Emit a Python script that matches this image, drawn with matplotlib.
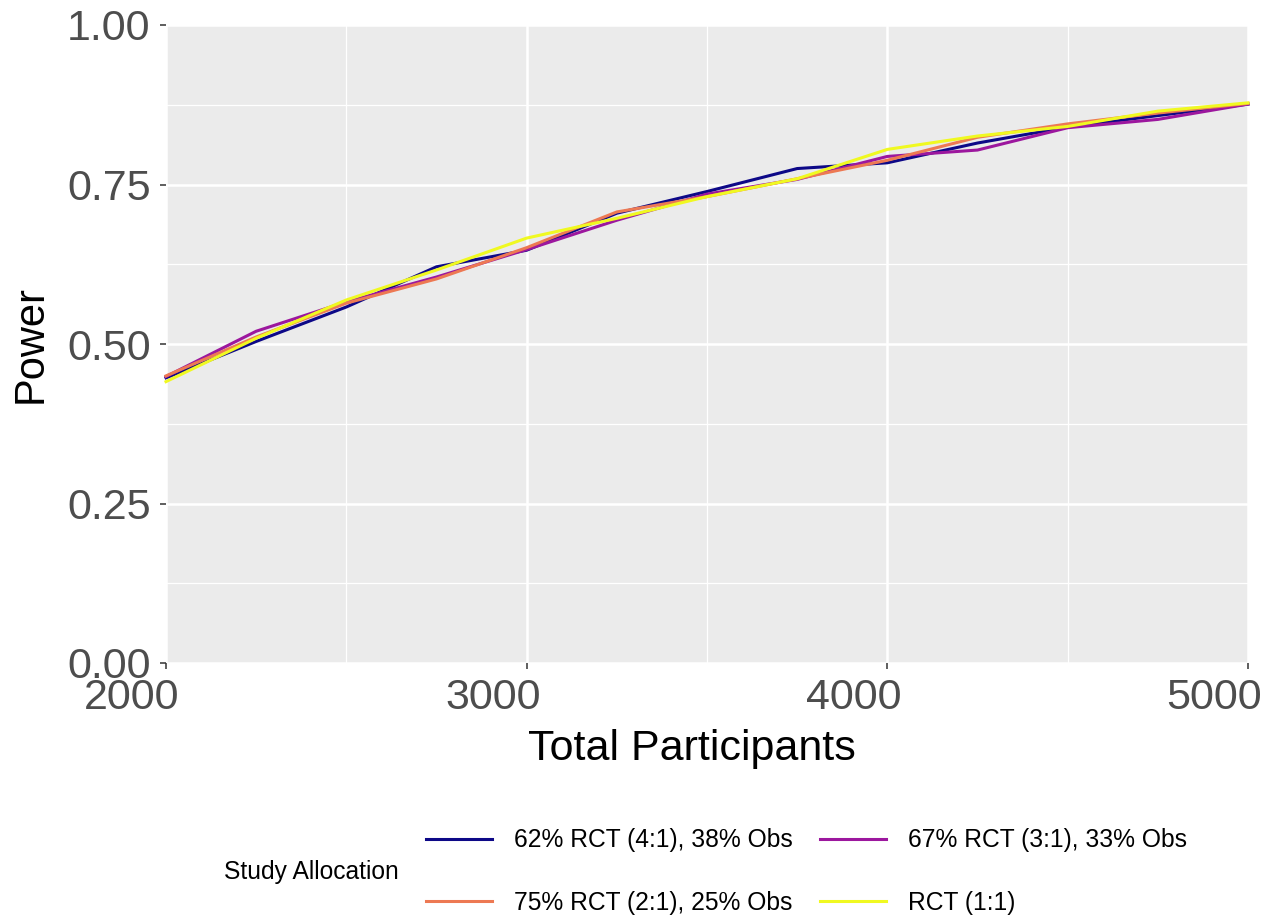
import matplotlib
matplotlib.use("Agg")
import matplotlib.pyplot as plt
from matplotlib.lines import Line2D
from matplotlib.transforms import ScaledTranslation
import numpy as np

plt.rcParams['font.family'] = ['Liberation Sans', 'DejaVu Sans']

# Total participants simulated
participants = [2000, 2250, 2500, 2750, 3000, 3250, 3500, 3750, 4000, 4250, 4500, 4750, 5000]

# Estimated power for each allocation scheme
power_62_rct = [0.447, 0.504, 0.558, 0.621, 0.647, 0.705, 0.739, 0.775, 0.784, 0.815, 0.840, 0.858, 0.876]
power_67_rct = [0.449, 0.520, 0.566, 0.605, 0.648, 0.694, 0.735, 0.758, 0.794, 0.804, 0.839, 0.852, 0.876]
power_75_rct = [0.450, 0.511, 0.564, 0.602, 0.651, 0.707, 0.731, 0.759, 0.788, 0.824, 0.845, 0.862, 0.877]
power_rct = [0.441, 0.509, 0.569, 0.616, 0.666, 0.697, 0.731, 0.759, 0.805, 0.826, 0.841, 0.865, 0.878]

series_labels = ["62% RCT (4:1), 38% Obs", "67% RCT (3:1), 33% Obs",
                 "75% RCT (2:1), 25% Obs", "RCT (1:1)"]
series_values = [power_62_rct, power_67_rct, power_75_rct, power_rct]
series_colors = ["#0D0887", "#9C179E", "#ED7953", "#F0F921"]

x_ticks = [2000, 3000, 4000, 5000]
y_ticks = [0.00, 0.25, 0.50, 0.75, 1.00]
y_tick_labels = ["0.00", "0.25", "0.50", "0.75", "1.00"]

W, H = 1264, 918
fig = plt.figure(figsize=(W / 100, H / 100), dpi=100)
left, right, top, bottom = 166, 1248, 25, 663
ax = fig.add_axes([left / W, 1 - bottom / H, (right - left) / W, (bottom - top) / H])

ax.set_facecolor("#EBEBEB")
for s in ax.spines.values():
    s.set_visible(False)

ax.set_xlim(2000, 5000)
ax.set_ylim(0, 1)
ax.set_xticks(x_ticks)
ax.set_xticklabels([str(t) for t in x_ticks])
ax.set_yticks(y_ticks)
ax.set_yticklabels(y_tick_labels)
ax.set_xticks([2500, 3500, 4500], minor=True)
ax.set_yticks([0.125, 0.375, 0.625, 0.875], minor=True)

ax.grid(which="major", color="white", linewidth=1.8)
ax.grid(which="minor", color="white", linewidth=0.9)
ax.set_axisbelow(True)

ax.tick_params(axis="both", which="major", length=4, width=1.1, color="#333333",
               labelcolor="#4D4D4D", labelsize=31)
ax.tick_params(axis="x", which="major", pad=7)
ax.tick_params(axis="y", which="major", pad=7)
ax.tick_params(which="minor", length=0)

# x tick labels sit slightly left of their ticks
shift = ScaledTranslation(-34 / 100, 0, fig.dpi_scale_trans)
for lab in ax.get_xticklabels():
    lab.set_transform(lab.get_transform() + shift)

handles = []
for vals, lab, col in zip(series_values, series_labels, series_colors):
    ln, = ax.plot(participants, vals, color=col, linewidth=2.2, label=lab,
                  solid_joinstyle="round", clip_on=False)
    handles.append(ln)

ax.set_xlabel("Total Participants", fontsize=31, color="black")
ax.xaxis.set_label_coords((692 - left) / (right - left), -(760 - bottom) / (bottom - top))
ax.xaxis.label.set_va("baseline")
ax.set_ylabel("Power", fontsize=30, color="black")
ax.yaxis.set_label_coords(-(166 - 31) / (right - left), 0.5)
ax.yaxis.label.set_va("center")

# legend: two columns, filled row-wise
order = [0, 2, 1, 3]
leg_handles = [Line2D([0], [0], color=series_colors[i], linewidth=2.2) for i in order]
leg_labels = [series_labels[i] for i in order]
leg = fig.legend(leg_handles, leg_labels, ncol=2, fontsize=17.7, frameon=False,
                 handlelength=2.68, handletextpad=0.9, columnspacing=1.1,
                 labelspacing=1.55, loc="center left",
                 bbox_to_anchor=(426 / W, 1 - 871.5 / H), borderaxespad=0, borderpad=0)
fig.text(224 / W, 1 - 872 / H, "Study Allocation", fontsize=17.7, ha="left", va="center")

fig.savefig("out.png", dpi=100)
